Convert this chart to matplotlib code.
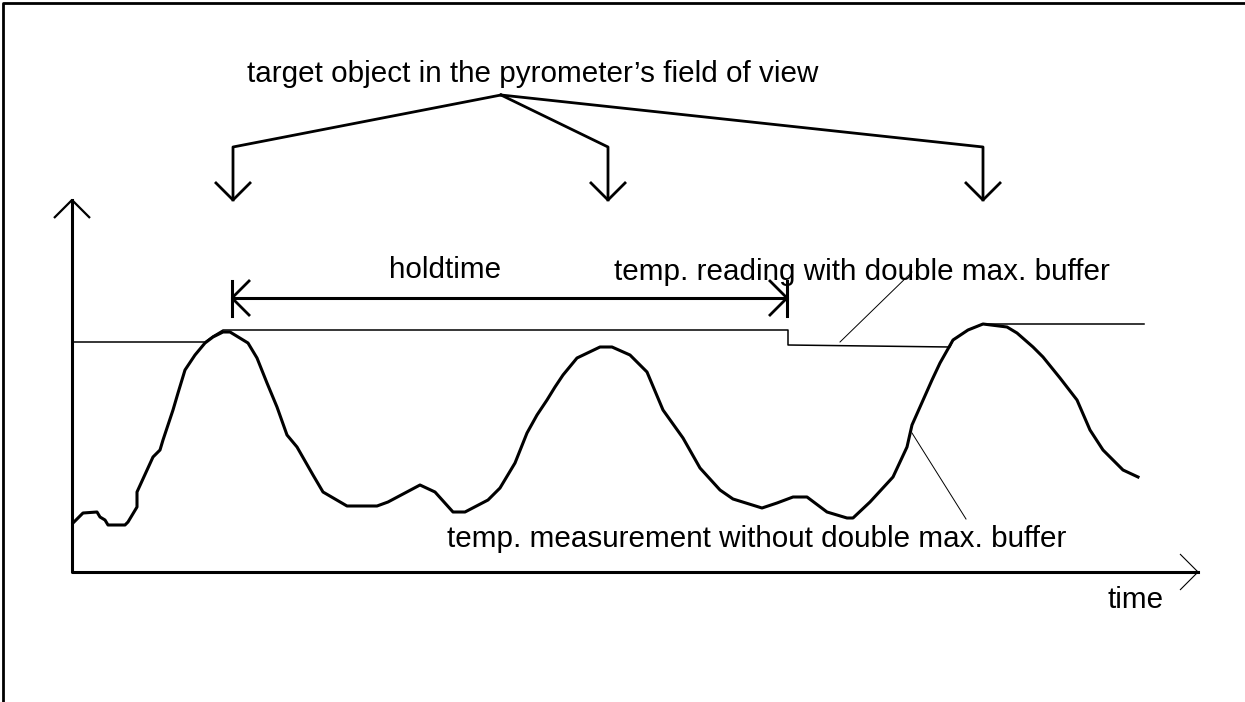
import numpy as np
import matplotlib.pyplot as plt

plt.rcParams['font.family'] = ['Liberation Sans', 'DejaVu Sans']

# measured temperature (schematic units: time / temp)
t_meas = [1, 11, 25, 28, 33, 36, 53, 56, 65, 65, 81, 88, 91, 101, 106, 113, 123, 133, 141, 151,
          158, 176, 185, 195, 205, 215, 225, 241, 251, 275, 305, 316, 348, 363, 381, 393, 416,
          428, 443, 455, 465, 475, 483, 491, 505, 528, 540, 558, 575, 591, 611, 628, 648, 661,
          690, 705, 721, 735, 755, 775, 781, 798, 821, 835, 840, 848, 860, 868, 881, 896, 911,
          935, 945, 961, 971, 988, 1005, 1018, 1031, 1051, 1066]
T_meas = [49, 59, 60, 55, 52, 47, 47, 50, 65, 80, 115, 122, 132, 162, 179, 202, 217, 229, 235, 240,
          240, 229, 214, 189, 165, 137, 125, 97, 80, 66, 66, 70, 87, 80, 60, 60, 72,
          84, 109, 139, 157, 172, 185, 197, 214, 225, 225, 217, 200, 162, 134, 104, 82, 73,
          64, 69, 75, 75, 60, 54, 54, 70, 95, 125, 147, 165, 192, 209, 232, 242, 248,
          245, 239, 225, 215, 194, 172, 142, 122, 102, 95]

# reading with double max. buffer
t_buf = [1, 133, 141, 151, 716, 716, 878, 881, 896, 911, 1072]
T_buf = [230, 230, 236, 242, 242, 227, 225, 232, 242, 248, 248]

# times where the target object is in the field of view
t_target = [161, 536, 911]
apex = (429, 477)
branch_T = 425
tip_T = 372

hold_start, hold_end, hold_T = 160, 715, 274

axis_len_t, axis_len_T = 1126, 372

fig = plt.figure(figsize=(12.45, 7.02), dpi=100)
ax = fig.add_axes([0, 0, 1, 1])
ax.set_xlim(-72, 1173)
ax.set_ylim(-130, 572)
ax.axis('off')

k = 'black'


def open_head(x, y, dx, dy, size=18, lw=2.0):
    # open "V" arrow head at (x, y) pointing along (dx, dy)
    d = np.array([dx, dy], float)
    d = d / np.hypot(*d)
    n = np.array([-d[1], d[0]])
    for s in (1, -1):
        p = np.array([x, y]) - d * size + n * size * s
        ax.plot([p[0], x], [p[1], y], color=k, lw=lw, solid_capstyle='butt')


# border
ax.plot([-69, -69, 1173], [-130, 569, 569], color=k, lw=2.0)

# axes with arrows
ax.plot([0, 0, axis_len_t], [axis_len_T, 0, 0], color=k, lw=2.2)
open_head(0, axis_len_T, 0, 1, lw=1.6)
open_head(axis_len_t, 0, 1, 0, lw=0.8)

# curves
ax.plot(t_meas, T_meas, color=k, lw=2.2)
ax.plot(t_buf, T_buf, color=k, lw=1.1)

# leader lines
ax.plot([768, 840], [230, 300], color=k, lw=0.7)
ax.plot([840, 894], [139, 53], color=k, lw=0.7)

# target arrows
for tt in t_target:
    ax.plot([apex[0], tt, tt], [apex[1], branch_T, tip_T], color=k, lw=2.0)
    open_head(tt, tip_T, 0, -1, lw=2.0)

# holdtime
ax.plot([hold_start, hold_end], [hold_T, hold_T], color=k, lw=2.2)
for xx, dx in ((hold_start, -1), (hold_end, 1)):
    ax.plot([xx, xx], [hold_T - 18, hold_T + 17], color=k, lw=2.2)
    open_head(xx, hold_T, dx, 0, lw=2.0)

fs = 21.3
ax.text(175, 490, 'target object in the pyrometer\u2019s field of view', fontsize=fs,
        va='baseline')
ax.text(373, 294, 'holdtime', fontsize=fs, ha='center', va='baseline')
ax.text(542, 292, 'temp. reading with double max. buffer', fontsize=fs, va='baseline')
ax.text(375, 25, 'temp. measurement without double max. buffer', fontsize=fs, va='baseline')
ax.text(1036, -36, 'time', fontsize=fs, va='baseline')

fig.savefig('out.png', dpi=100)
